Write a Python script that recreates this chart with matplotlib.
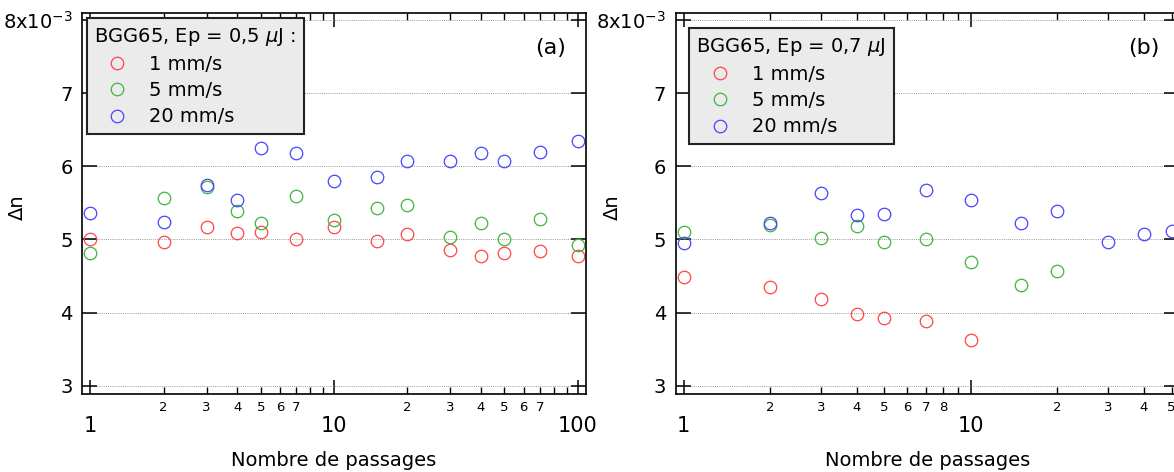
import math
import matplotlib
matplotlib.use("Agg")
import matplotlib.pyplot as plt
from matplotlib.ticker import FixedLocator, FuncFormatter

plt.rcParams['font.family'] = ['DejaVu Sans']
plt.rcParams['mathtext.default'] = 'regular'

# ---------------- data (Δn in units of 1e-3) ----------------
passes_a = [1, 2, 3, 4, 5, 7, 10, 15, 20, 30, 40, 50, 70, 100]
a_1mms = [5.01, 4.96, 5.17, 5.09, 5.10, 5.01, 5.17, 4.98, 5.08, 4.86, 4.77, 4.82, 4.84, 4.77]
a_5mms = [4.81, 5.57, 5.72, 5.39, 5.22, 5.59, 5.27, 5.43, 5.47, 5.03, 5.23, 5.01, 5.28, 4.93]
a_20mms = [5.36, 5.24, 5.74, 5.54, 6.25, 6.18, 5.80, 5.86, 6.07, 6.07, 6.18, 6.07, 6.19, 6.34]

passes_b_1 = [1, 2, 3, 4, 5, 7, 10]
b_1mms = [4.49, 4.35, 4.18, 3.98, 3.93, 3.88, 3.62]
passes_b_5 = [1, 2, 3, 4, 5, 7, 10, 15, 20]
b_5mms = [5.10, 5.20, 5.02, 5.19, 4.97, 5.01, 4.69, 4.37, 4.57]
passes_b_20 = [1, 2, 3, 4, 5, 7, 10, 15, 20, 30, 40, 50]
b_20mms = [4.95, 5.22, 5.64, 5.34, 5.35, 5.67, 5.54, 5.22, 5.39, 4.97, 5.08, 5.12]

series_labels = ['1 mm/s', '5 mm/s', '20 mm/s']
colors = ['#ff4545', '#3fb53f', '#4545ff']
yticks = [3, 4, 5, 6, 7, 8]
titles = ['BGG65, Ep = 0,5 $\\mathit{\\mu}$J :', 'BGG65, Ep = 0,7 $\\mathit{\\mu}$J']
panel_tags = ['(a)', '(b)']
xlabel = 'Nombre de passages'
ylabel = 'Δn'

W, H = 1174, 472
fig = plt.figure(figsize=(W / 100, H / 100), dpi=100)

def px_axes(x0, x1, ytop, ybot):
    return fig.add_axes([x0 / W, (H - ybot) / H, (x1 - x0) / W, (ybot - ytop) / H])

axA = px_axes(82.3, 585.5, 13.3, 393.5)
axB = px_axes(675.8, 1179.3, 13.3, 393.5)

def style(ax, xlim, minor_labels, xs_list, ys_list, title, tag, ylab_x, leg_anchor):
    for xs, ys, c, lab in zip(xs_list, ys_list, colors, series_labels):
        ax.plot(xs, ys, ls='none', marker='o', ms=9, mfc='none', mec=c, mew=0.9, label=lab)
    ax.set_xscale('log')
    ax.set_xlim(*xlim)
    ax.set_ylim(2.893, 8.092)
    ax.yaxis.set_major_locator(FixedLocator(yticks))
    ax.yaxis.set_major_formatter(FuncFormatter(
        lambda v, p: '8x10$^{-3}$' if abs(v - 8) < 1e-9 else f'{v:g}'))
    ax.xaxis.set_major_locator(FixedLocator([1, 10, 100]))
    ax.xaxis.set_major_formatter(FuncFormatter(lambda v, p: f'{v:g}'))
    minors = [m * d for d in (1, 10) for m in range(2, 10)]
    ax.xaxis.set_minor_locator(FixedLocator(minors))

    def mfmt(v, p):
        d = 10 ** int(math.floor(math.log10(v) + 1e-9))
        lead = int(round(v / d))
        return str(lead) if lead in minor_labels else ''
    ax.xaxis.set_minor_formatter(FuncFormatter(mfmt))
    ax.yaxis.set_minor_locator(FixedLocator([]))

    ax.tick_params(axis='y', which='major', direction='in', length=10.5, width=1.1,
                   left=True, right=True, labelsize=14, pad=7)
    ax.tick_params(axis='x', which='major', direction='in', length=10, width=1.1,
                   top=True, bottom=True, labelsize=15, pad=16)
    ax.tick_params(axis='x', which='minor', direction='in', length=5.2, width=1.0,
                   top=True, bottom=True, labelsize=9.5, pad=5.5)
    for s in ax.spines.values():
        s.set_linewidth(1.2)
    ax.grid(axis='y', which='major', color='#9a9a9a', ls=(0, (1, 1.2)), lw=0.7)
    ax.set_axisbelow(True)

    ax.set_xlabel(xlabel, fontsize=14)
    ax.xaxis.label.set_va('baseline')
    ax.xaxis.set_label_coords(0.5, -0.19)
    ax.set_ylabel(ylabel, fontsize=14)
    ax.yaxis.set_label_coords(ylab_x, 0.49)

    ax.text(0.93, 0.909, tag, transform=ax.transAxes, fontsize=16,
            ha='center', va='center')

    leg = ax.legend(title=title, loc='upper left', bbox_to_anchor=leg_anchor,
                    borderaxespad=0, fontsize=14, title_fontsize=14,
                    frameon=True, fancybox=False, framealpha=1,
                    facecolor='#ebebeb', edgecolor='#222222',
                    handlelength=2.4, handletextpad=0.45, labelspacing=0.38,
                    borderpad=0.38, alignment='left', markerfirst=True)
    leg.get_frame().set_linewidth(1.5)
    leg._legend_box.sep = 5
    return leg

style(axA, (0.927, 107.5), {2, 3, 4, 5, 6, 7},
      [passes_a, passes_a, passes_a], [a_1mms, a_5mms, a_20mms],
      titles[0], panel_tags[0], -0.11, (0.0087, 0.9868))
style(axB, (0.938, 53.2), {2, 3, 4, 5, 6, 7, 8},
      [passes_b_1, passes_b_5, passes_b_20], [b_1mms, b_5mms, b_20mms],
      titles[1], panel_tags[1], -0.107, (0.0264, 0.9605))

fig.savefig('out.png', dpi=100)
